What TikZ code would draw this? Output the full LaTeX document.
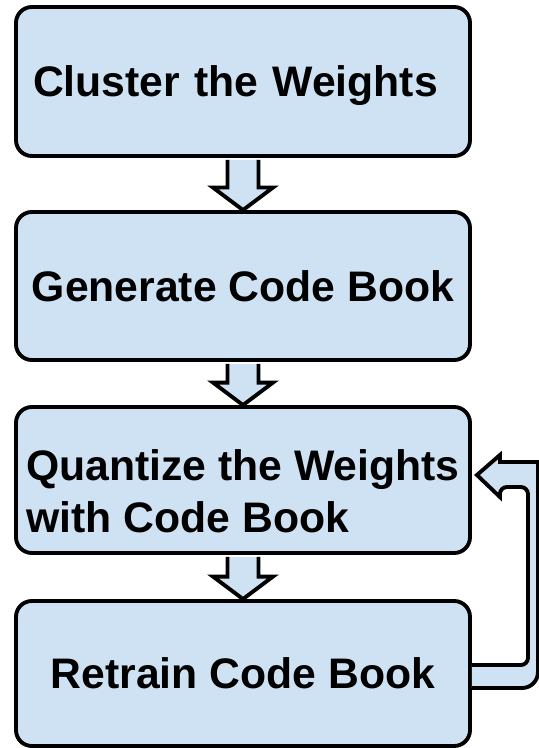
\documentclass[tikz,border=0pt]{standalone}
\usepackage{fontspec}
\setmainfont{Liberation Sans}
\usetikzlibrary{calc}
\definecolor{stg}{HTML}{CFE2F3}
\tikzset{
  stage/.style={draw, fill=stg, line width=2.2pt, rounded corners=9pt, minimum width=9.08cm,
    minimum height=2.94cm, align=left, font=\fontsize{24.3}{29.6}\selectfont\bfseries},
  blk/.style={draw, fill=stg, line width=2.2pt, line join=miter}}

\begin{document}
\begin{tikzpicture}
\useasboundingbox (0,0) rectangle (10.78,-14.96);
\node[stage, minimum height=2.98cm, text width=8.4cm, inner xsep=0.34cm, text depth=0pt] (cw) at (4.86,-1.63) {Cluster the Weights};
\node[stage, minimum height=2.96cm] (gc) at (4.86,-5.72) {Generate Code Book};
\node[stage, minimum height=2.92cm, text height=2.12cm] (qw) at (4.86,-9.60) {Quantize the Weights\\with Code Book};
\node[stage, minimum height=2.90cm, align=center] (rt) at (4.86,-13.47) {Retrain Code Book};
\foreach \a/\b in {cw/gc, gc/qw, qw/rt}
  \draw[blk] ($(\a.south)+(-0.31,-0.04)$) -- ($(\b.north)+(-0.31,0.45)$) -- ++(-0.29,0) -- (\b.north)
    -- ($(\b.north)+(0.6,0.45)$) -- ++(-0.29,0) -- ($(\a.south)+(0.31,-0.04)$);
\draw[blk] ($(rt.east)+(0,0.17)$) [rounded corners=4pt] -- ($(rt.east)+(1.12,0.17)$) -- ($(qw.east)+(1.12,-0.14)$)
  -- ($(qw.east)+(0.56,-0.14)$) [sharp corners] -- ++(0,-0.20) -- ($(qw.east)+(0.10,0.10)$) -- ($(qw.east)+(0.56,0.50)$)
  -- ++(0,-0.14) -- ($(qw.east)+(1.32,0.36)$) [rounded corners=9pt] -- ($(rt.east)+(1.32,-0.29)$) -- ($(rt.east)+(0,-0.29)$);
\end{tikzpicture}
\end{document}
